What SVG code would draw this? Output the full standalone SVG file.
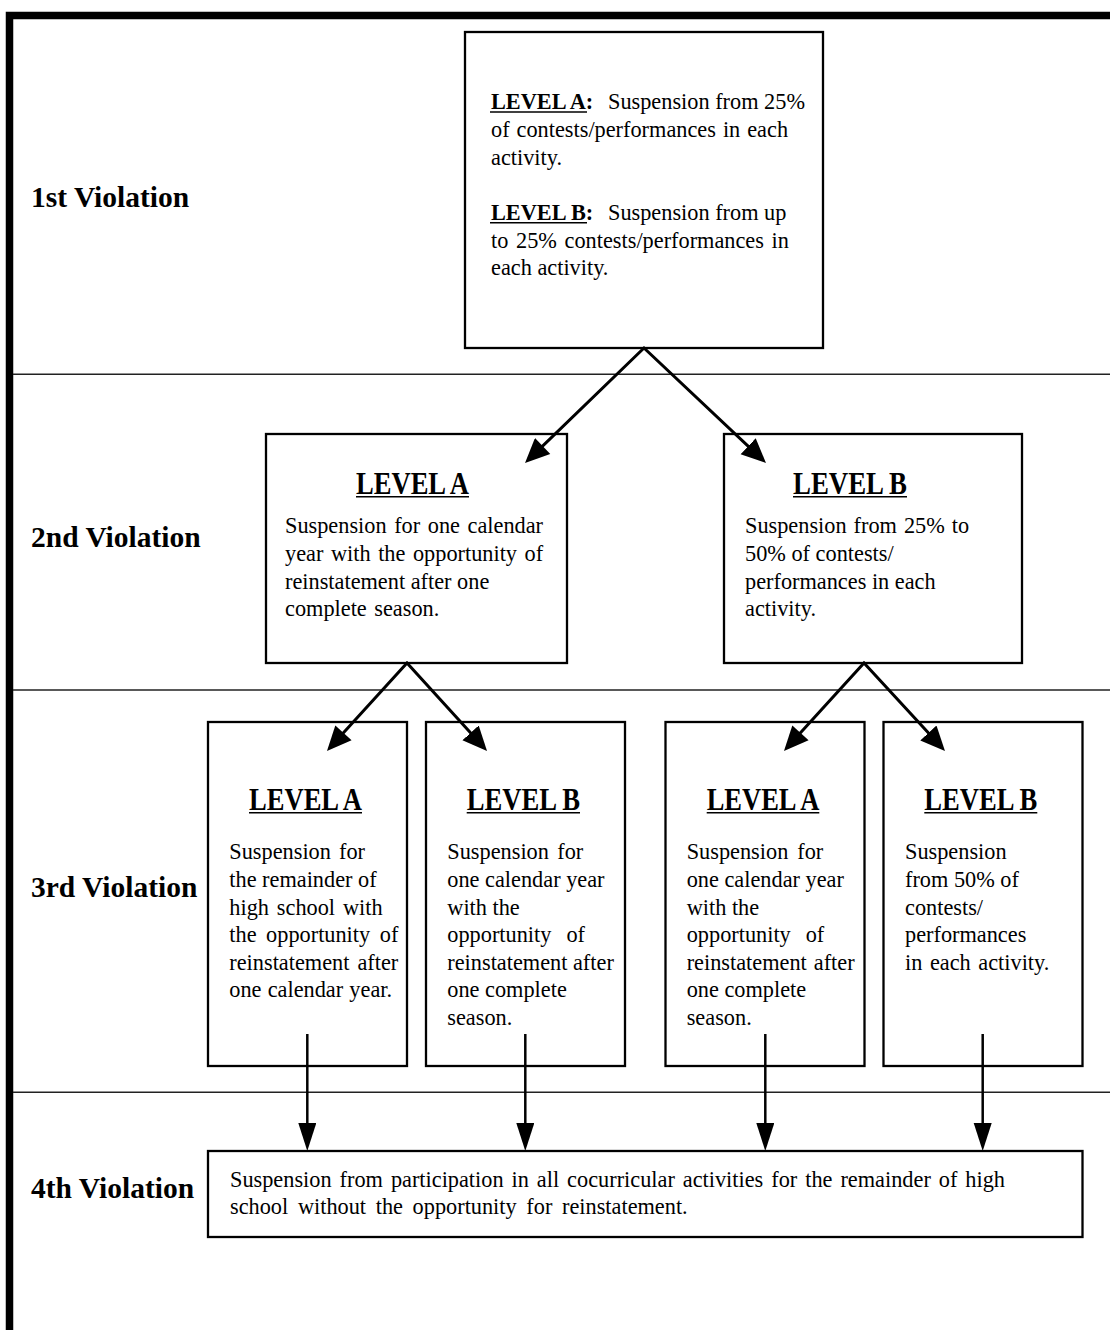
<svg xmlns="http://www.w3.org/2000/svg" width="1110" height="1330" viewBox="0 0 1110 1330">
<style>
  .bg { fill: #ffffff; }
  .frame { fill: none; stroke: #000; stroke-width: 7.5; stroke-linecap: square; }
  .sep { stroke: #222; stroke-width: 1.4; }
  .box { fill: #fff; stroke: #000; stroke-width: 2.3; }
  .lbl { font-family: "Liberation Serif", "Times New Roman", serif; font-weight: bold; font-size: 29.5px; fill: #000; }
  .txt { font-family: "Liberation Serif", "Times New Roman", serif; font-size: 22.3px; fill: #000; }
  .b { font-weight: bold; }
  .hd { font-family: "Liberation Serif", "Times New Roman", serif; font-weight: bold; font-size: 31px; fill: #000; }
  .ul { stroke: #000; stroke-width: 1.6; }
  .diag { fill: none; stroke: #000; stroke-width: 3; stroke-linejoin: miter; }
  .vert { fill: none; stroke: #000; stroke-width: 2.5; }
</style>
<defs>
  <marker id="headD" markerUnits="userSpaceOnUse" markerWidth="26" markerHeight="24" refX="14.5" refY="11" orient="auto" viewBox="0 0 26 24">
    <path d="M0,0 L24.5,11 L0,22 Z" fill="#000"/>
  </marker>
  <marker id="headDrev" markerUnits="userSpaceOnUse" markerWidth="26" markerHeight="24" refX="10" refY="11" orient="auto" viewBox="0 0 26 24">
    <path d="M24.5,0 L0,11 L24.5,22 Z" fill="#000"/>
  </marker>
  <marker id="headV" markerUnits="userSpaceOnUse" markerWidth="29" markerHeight="19" refX="18" refY="9" orient="auto" viewBox="0 0 29 19">
    <path d="M0,0 L28,9 L0,18 Z" fill="#000"/>
  </marker>
</defs>
<rect class="bg" x="0" y="0" width="1110" height="1330"/>

<g id="frame">
  <path class="frame" d="M9.5,1340 V15.5 H1120"/>
  <line class="sep" x1="13" y1="374.3" x2="1110" y2="374.3"/>
  <line class="sep" x1="13" y1="690" x2="1110" y2="690"/>
  <line class="sep" x1="13" y1="1092.3" x2="1110" y2="1092.3"/>
</g>

<g id="row-labels">
  <text class="lbl" x="31" y="207">1st Violation</text>
  <text class="lbl" x="31" y="547">2nd Violation</text>
  <text class="lbl" x="31" y="897">3rd Violation</text>
  <text class="lbl" x="31" y="1198">4th Violation</text>
</g>

<g id="node-v1">
  <rect class="box" x="465" y="32" width="358" height="316"/>
  <text class="txt b" x="491" y="109.3">LEVEL A:</text>
  <line class="ul" x1="490" y1="112" x2="587" y2="112"/>
  <text class="txt" x="608" y="109.3">Suspension from 25%</text>
  <text class="txt" x="491" y="136.9" word-spacing="1.4">of contests/performances in each</text>
  <text class="txt" x="491" y="164.5">activity.</text>
  <text class="txt b" x="491" y="220">LEVEL B:</text>
  <line class="ul" x1="490" y1="222.7" x2="587" y2="222.7"/>
  <text class="txt" x="608" y="220">Suspension from up</text>
  <text class="txt" x="491" y="247.6" word-spacing="2.1">to 25% contests/performances in</text>
  <text class="txt" x="491" y="275.2">each activity.</text>
</g>

<g id="node-v2a">
  <rect class="box" x="266" y="434" width="301" height="229"/>
  <text class="hd" x="356" y="494" textLength="113" lengthAdjust="spacingAndGlyphs">LEVEL A</text>
  <line class="ul" x1="356" y1="496.8" x2="469" y2="496.8"/>
  <text class="txt" x="285" y="533.3" word-spacing="2">Suspension for one calendar</text>
  <text class="txt" x="285" y="560.9" word-spacing="2">year with the opportunity of</text>
  <text class="txt" x="285" y="588.5">reinstatement after one</text>
  <text class="txt" x="285" y="616.1" word-spacing="2">complete season.</text>
</g>

<g id="node-v2b">
  <rect class="box" x="724" y="434" width="298" height="229"/>
  <text class="hd" x="793" y="494" textLength="114" lengthAdjust="spacingAndGlyphs">LEVEL B</text>
  <line class="ul" x1="793" y1="496.8" x2="907" y2="496.8"/>
  <text class="txt" x="745" y="533.3" word-spacing="1.4">Suspension from 25% to</text>
  <text class="txt" x="745" y="560.9">50% of contests/</text>
  <text class="txt" x="745" y="588.5">performances in each</text>
  <text class="txt" x="745" y="616.1">activity.</text>
</g>

<g id="node-v3a">
  <rect class="box" x="208" y="722" width="199" height="344"/>
  <text class="hd" x="249" y="810" textLength="113" lengthAdjust="spacingAndGlyphs">LEVEL A</text>
  <line class="ul" x1="249" y1="812.8" x2="362" y2="812.8"/>
  <text class="txt" x="229.3" y="859.3" word-spacing="2.5">Suspension for</text>
  <text class="txt" x="229.3" y="886.9">the remainder of</text>
  <text class="txt" x="229.3" y="914.5" word-spacing="2.3">high school with</text>
  <text class="txt" x="229.3" y="942.1" word-spacing="4">the opportunity of</text>
  <text class="txt" x="229.3" y="969.7" word-spacing="2.4">reinstatement after</text>
  <text class="txt" x="229.3" y="997.3" word-spacing="0.6">one calendar year.</text>
</g>

<g id="node-v3b">
  <rect class="box" x="426" y="722" width="199" height="344"/>
  <text class="hd" x="466.7" y="810" textLength="113.3" lengthAdjust="spacingAndGlyphs">LEVEL B</text>
  <line class="ul" x1="466.7" y1="812.8" x2="580" y2="812.8"/>
  <text class="txt" x="447.3" y="859.3" word-spacing="2.8">Suspension for</text>
  <text class="txt" x="447.3" y="886.9">one calendar year</text>
  <text class="txt" x="447.3" y="914.5">with the</text>
  <text class="txt" x="447.3" y="942.1" word-spacing="9.5">opportunity of</text>
  <text class="txt" x="447.3" y="969.7">reinstatement after</text>
  <text class="txt" x="447.3" y="997.3">one complete</text>
  <text class="txt" x="447.3" y="1024.9">season.</text>
</g>

<g id="node-v3c">
  <rect class="box" x="665.5" y="722" width="199" height="344"/>
  <text class="hd" x="706.7" y="810" textLength="112.6" lengthAdjust="spacingAndGlyphs">LEVEL A</text>
  <line class="ul" x1="706.7" y1="812.8" x2="819.3" y2="812.8"/>
  <text class="txt" x="686.7" y="859.3" word-spacing="3.4">Suspension for</text>
  <text class="txt" x="686.7" y="886.9">one calendar year</text>
  <text class="txt" x="686.7" y="914.5">with the</text>
  <text class="txt" x="686.7" y="942.1" word-spacing="9.4">opportunity of</text>
  <text class="txt" x="686.7" y="969.7" word-spacing="1.4">reinstatement after</text>
  <text class="txt" x="686.7" y="997.3">one complete</text>
  <text class="txt" x="686.7" y="1024.9">season.</text>
</g>

<g id="node-v3d">
  <rect class="box" x="883.5" y="722" width="199" height="344"/>
  <text class="hd" x="924.3" y="810" textLength="113" lengthAdjust="spacingAndGlyphs">LEVEL B</text>
  <line class="ul" x1="924.3" y1="812.8" x2="1037.3" y2="812.8"/>
  <text class="txt" x="905" y="859.3">Suspension</text>
  <text class="txt" x="905" y="886.9">from 50% of</text>
  <text class="txt" x="905" y="914.5">contests/</text>
  <text class="txt" x="905" y="942.1">performances</text>
  <text class="txt" x="905" y="969.7" word-spacing="2">in each activity.</text>
</g>

<g id="node-v4">
  <rect class="box" x="208" y="1151" width="874.5" height="86"/>
  <text class="txt" x="230" y="1187" word-spacing="2.4">Suspension from participation in all cocurricular activities for the remainder of high</text>
  <text class="txt" x="230" y="1213.5" word-spacing="4.1">school without the opportunity for reinstatement.</text>
</g>

<g id="connectors">
  <path class="diag" d="M532.2,456.1 L644,348 L758.7,456.1" marker-start="url(#headDrev)" marker-end="url(#headD)"/>
  <path class="diag" d="M333.7,743.6 L407,663 L480.3,743.6" marker-start="url(#headDrev)" marker-end="url(#headD)"/>
  <path class="diag" d="M790.7,743.6 L864,663 L938.2,743.6" marker-start="url(#headDrev)" marker-end="url(#headD)"/>
  <line class="vert" x1="307.3" y1="1034" x2="307.3" y2="1141" marker-end="url(#headV)"/>
  <line class="vert" x1="525.3" y1="1034" x2="525.3" y2="1141" marker-end="url(#headV)"/>
  <line class="vert" x1="765.3" y1="1034" x2="765.3" y2="1141" marker-end="url(#headV)"/>
  <line class="vert" x1="982.7" y1="1034" x2="982.7" y2="1141" marker-end="url(#headV)"/>
</g>
</svg>
